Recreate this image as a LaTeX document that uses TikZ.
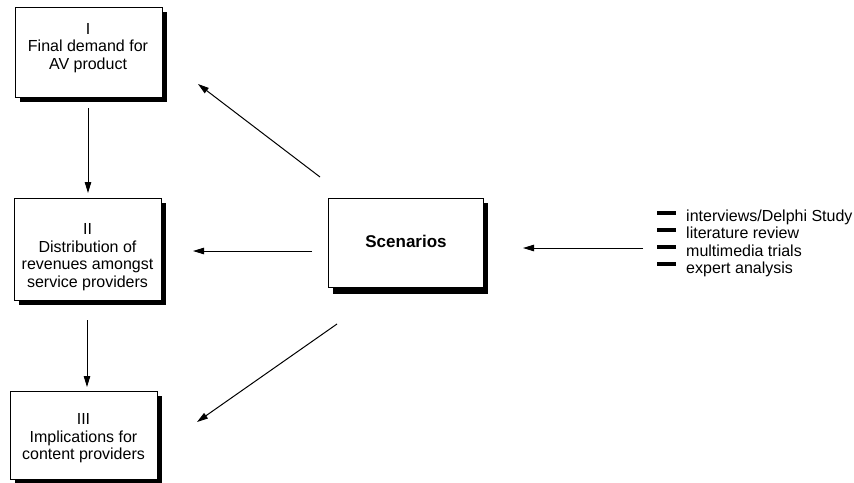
\documentclass[tikz,border=0pt]{standalone}
\usepackage{fontspec}
\setmainfont{Liberation Sans}
\usetikzlibrary{arrows.meta,shadows}
\begin{document}
\begin{tikzpicture}[x=1pt,y=-1pt,
  box/.style={draw=black,line width=1pt,fill=white,rectangle,inner sep=0pt,
    drop shadow={shadow xshift=5pt,shadow yshift=-5pt,fill=black,opacity=1}},
  txt/.style={align=center,font=\fontsize{16}{17.5}\selectfont,inner sep=0pt},
  arr/.style={line width=1pt,-{Triangle[length=11pt,width=6.5pt]}},
  item/.style={anchor=base west,font=\fontsize{16}{17.5}\selectfont,inner sep=0pt},
  bar/.style={fill=black,minimum width=19pt,minimum height=4pt,inner sep=0pt}]
\useasboundingbox (0,0) rectangle (854,482);
% boxes
\node[box,minimum width=147pt,minimum height=90pt] (b1) at (88.5,52) {};
\node[txt] (b1t) at (88,48) {I\\Final demand for\\AV product};
\node[box,minimum width=147pt,minimum height=102pt] (b2) at (87.5,249) {};
\node[txt] (b2t) at (87.5,257) {II\\Distribution of\\revenues amongst\\service providers};
\node[box,minimum width=147pt,minimum height=88pt] (b3) at (83.5,435) {};
\node[txt] (b3t) at (83.5,438.5) {III\\Implications for\\content providers};
\node[box,minimum width=155pt,minimum height=89pt,
  drop shadow={shadow xshift=5pt,shadow yshift=-7pt,fill=black,opacity=1}] (sc) at (405.5,242.5) {};
\node[txt,font=\fontsize{17}{19}\selectfont\bfseries] (sct) at (406,241) {Scenarios};
% vertical arrows
\coordinate (v1s) at (88,108);
\coordinate (v1e) at (88,193);
\coordinate (v2s) at (87,320);
\coordinate (v2e) at (87,387);
\draw[arr] (v1s) -- (v1e);
\draw[arr] (v2s) -- (v2e);
% arrows from scenarios
\coordinate (s1) at (320,177);
\coordinate (e1) at (198,84);
\coordinate (s2) at (312,251);
\coordinate (e2) at (193,251);
\coordinate (s3) at (337,324);
\coordinate (e3) at (197,422);
\draw[arr] (s1) -- (e1);
\draw[arr] (s2) -- (e2);
\draw[arr] (s3) -- (e3);
% input list
\node[item] (i1) at (686,221.7) {interviews/Delphi Study};
\node[item] (i2) at (686,238.9) {literature review};
\node[item] (i3) at (686,256.1) {multimedia trials};
\node[item] (i4) at (686,273.3) {expert analysis};
\foreach \n in {1,2,3,4}{
  \node[bar] (k\n) at ([yshift=9pt]i\n.base west) [xshift=-19.5pt] {};
}
\coordinate (s4) at (643,248);
\coordinate (e4) at (523,248);
\draw[arr] (s4) -- (e4);
\end{tikzpicture}
\end{document}
